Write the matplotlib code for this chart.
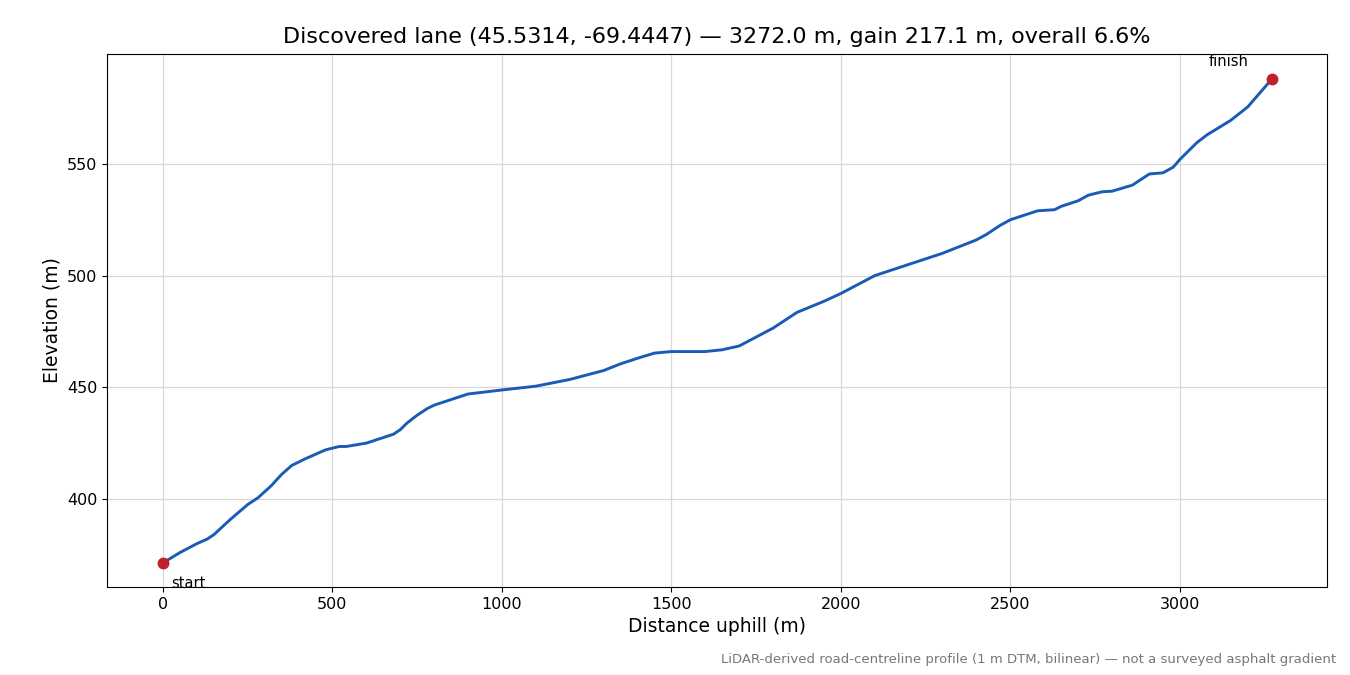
import matplotlib
matplotlib.use("Agg")
import matplotlib.pyplot as plt

dist = [0, 50, 100, 130, 150, 200, 250, 280, 320, 350, 380, 420, 480, 520, 540, 600, 650, 680, 700, 720, 750, 780, 800, 850, 900, 1000,
        1100, 1200, 1300, 1350, 1400, 1450, 1500, 1600, 1650, 1700, 1800, 1870, 1950, 2000, 2050, 2100, 2200, 2300, 2400,
        2430, 2470, 2500, 2580, 2630, 2650, 2700, 2730, 2770, 2800, 2860, 2890, 2910, 2950, 2980, 3000, 3050, 3080, 3150, 3200, 3272]
elev = [371.4, 376, 380, 382, 384, 391, 397.5, 400.5, 406, 411, 415, 418, 422, 423.5, 423.5, 425, 427.5, 429, 431, 434, 437.5, 440.5, 442, 444.5, 447, 448.8,
        450.5, 453.5, 457.5, 460.5, 463, 465.3, 466, 466, 466.8, 468.5, 476.5, 483.5, 488.5, 492, 496, 500, 505, 510, 516,
        518.5, 522.5, 525, 529, 529.5, 531, 533.5, 536, 537.5, 537.8, 540.5, 543.5, 545.5, 546, 548.5, 552, 559.5, 563, 569.5, 575.5, 588.1]

fig = plt.figure(figsize=(13.5, 6.75), dpi=100)
ax = fig.add_axes([107/1350, 1-587/675, 1220/1350, 533/675])
ax.plot(dist, elev, color="#1a5bb5", lw=2.1)
ax.plot([dist[0]], [elev[0]], "o", color="#c0202a", ms=7.5)
ax.plot([dist[-1]], [elev[-1]], "o", color="#c0202a", ms=7.5)
ax.annotate("start", (dist[0], elev[0]), xytext=(6, -18), textcoords="offset points", fontsize=10.5)
ax.annotate("finish", (dist[-1], elev[-1]), xytext=(-46, 9), textcoords="offset points", fontsize=10.5)
ax.set_xlim(-165, 3434)
ax.set_ylim(360.6, 599.2)
ax.set_yticks([400, 450, 500, 550])
ax.grid(True, color="#d8d8d8", lw=0.9)
ax.tick_params(labelsize=11.5)
ax.set_xlabel("Distance uphill (m)", fontsize=13.5)
ax.set_ylabel("Elevation (m)", fontsize=13.5)
ax.set_title("Discovered lane (45.5314, -69.4447) — 3272.0 m, gain 217.1 m, overall 6.6%", fontsize=16, pad=8)
fig.text(1336/1350, 1-660/675, "LiDAR-derived road-centreline profile (1 m DTM, bilinear) — not a surveyed asphalt gradient",
         ha="right", va="center", fontsize=9.5, color="#777777")
fig.savefig("out.png", dpi=100)
